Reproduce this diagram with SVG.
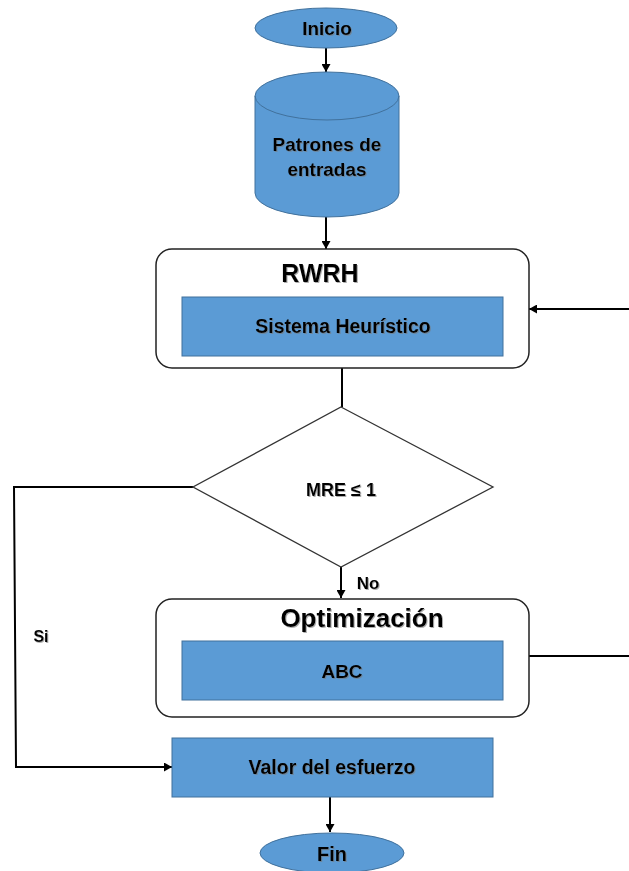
<svg xmlns="http://www.w3.org/2000/svg" width="629" height="871" viewBox="0 0 629 871">
<defs>
<marker id="ah" markerWidth="8" markerHeight="9" refX="8" refY="4.5" orient="auto" markerUnits="userSpaceOnUse">
<path d="M0,0 L8,4.5 L0,9 Z" fill="#000"/>
</marker>
<filter id="sh" x="-10%" y="-20%" width="130%" height="150%">
<feDropShadow dx="1" dy="1" stdDeviation="0.7" flood-color="#777" flood-opacity="0.6"/>
</filter>
</defs>
<style>
.blue{fill:#5B9BD5;stroke:#41719C;stroke-width:1}
.frame{fill:#fff;stroke:#222;stroke-width:1.5}
.t{font-family:"Liberation Sans",Arial,sans-serif;font-weight:bold;fill:#000;text-anchor:middle;filter:url(#sh)}
.c{fill:none;stroke:#000;stroke-width:2}
</style>
<rect width="629" height="871" fill="#fff"/>
<g id="connectors">
<line class="c" x1="326" y1="48" x2="326" y2="72" marker-end="url(#ah)"/>
<line class="c" x1="326" y1="217" x2="326" y2="249" marker-end="url(#ah)"/>
<line class="c" x1="629" y1="309" x2="529" y2="309" marker-end="url(#ah)"/>
<line class="c" x1="342" y1="368" x2="342" y2="407"/>
<line class="c" x1="341" y1="567" x2="341" y2="598" marker-end="url(#ah)"/>
<polyline class="c" points="193,487 14,487 16,767 172,767" marker-end="url(#ah)"/>
<line class="c" x1="529" y1="656" x2="629" y2="656"/>
<line class="c" x1="330" y1="797" x2="330" y2="832" marker-end="url(#ah)"/>
<text class="t" x="368" y="589" font-size="17">No</text>
<text class="t" x="41" y="642" font-size="16">Si</text>
</g>
<g id="inicio">
<ellipse class="blue" cx="326" cy="28" rx="71" ry="20"/>
<text class="t" x="327" y="35" font-size="19">Inicio</text>
</g>
<g id="patrones">
<path class="blue" d="M255,96 L255,193 A72,24 0 0 0 399,193 L399,96 A72,24 0 0 0 255,96 Z"/>
<path fill="none" stroke="#41719C" stroke-width="1" d="M255,96 A72,24 0 0 0 399,96"/>
<text class="t" x="327" y="151" font-size="19">Patrones de</text>
<text class="t" x="327" y="176" font-size="19">entradas</text>
</g>
<g id="rwrh">
<rect class="frame" x="156" y="249" width="373" height="119" rx="16"/>
<text class="t" x="320" y="282" font-size="25">RWRH</text>
<rect class="blue" x="182" y="297" width="321" height="59"/>
<text class="t" x="343" y="333" font-size="19.5">Sistema Heurístico</text>
</g>
<g id="decision">
<polygon points="341,407 493,487 341,567 193,487" fill="#fff" stroke="#333" stroke-width="1.3"/>
<text class="t" x="341" y="496" font-size="18">MRE ≤ 1</text>
</g>
<g id="optimizacion">
<rect class="frame" x="156" y="599" width="373" height="118" rx="16"/>
<text class="t" x="362" y="627" font-size="26">Optimización</text>
<rect class="blue" x="182" y="641" width="321" height="59"/>
<text class="t" x="342" y="678" font-size="19">ABC</text>
</g>
<g id="valor">
<rect class="blue" x="172" y="738" width="321" height="59"/>
<text class="t" x="332" y="774" font-size="19.5">Valor del esfuerzo</text>
</g>
<g id="fin">
<ellipse class="blue" cx="332" cy="853" rx="72" ry="20"/>
<text class="t" x="332" y="861" font-size="20">Fin</text>
</g>
</svg>
